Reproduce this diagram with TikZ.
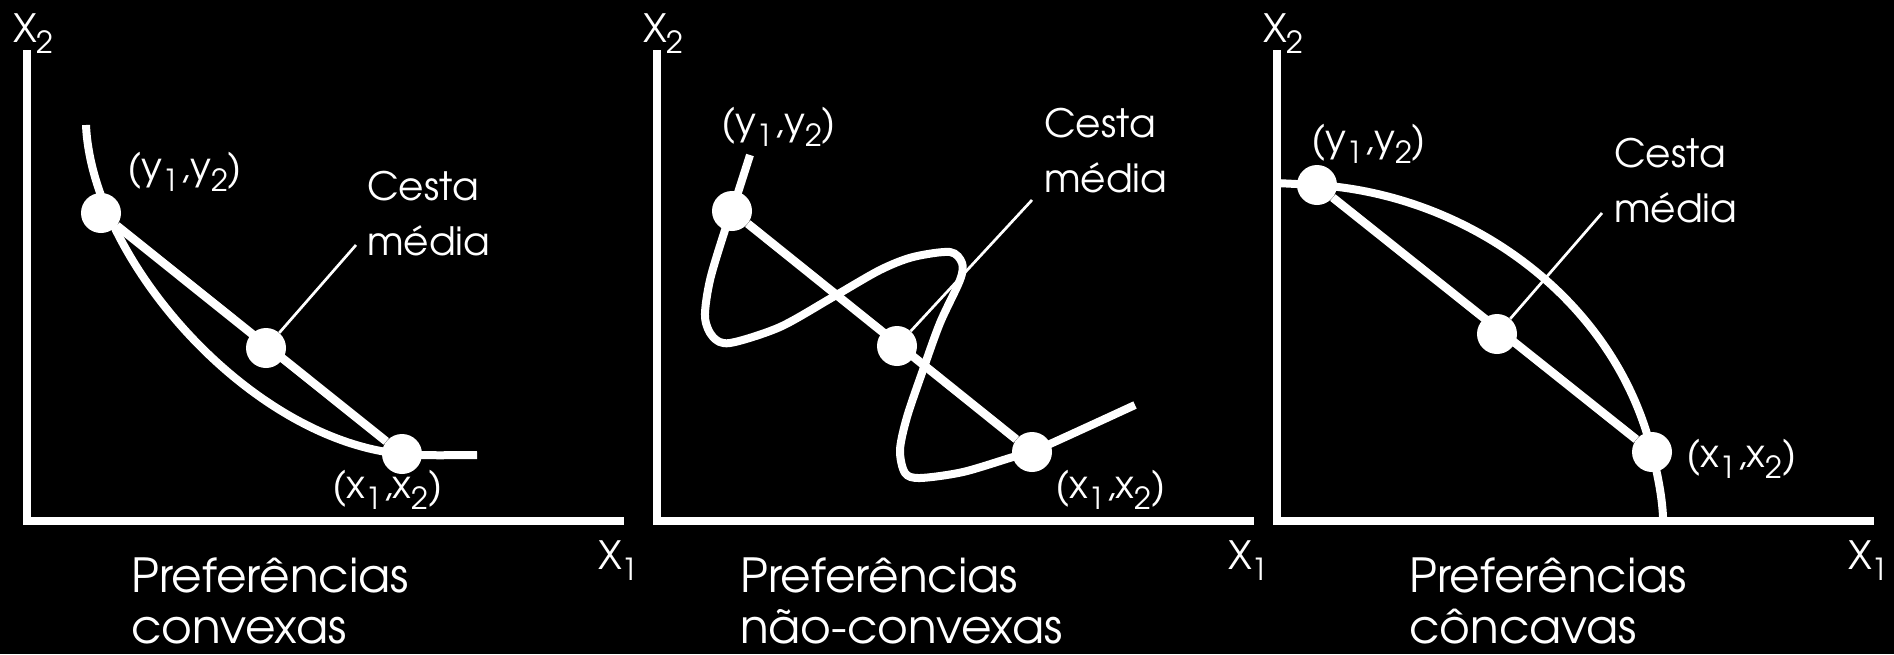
\documentclass[tikz,border=0pt]{standalone}
\usepackage{fontspec}
\setmainfont{texgyreadventor-regular.otf}
\usetikzlibrary{positioning}
\newcommand{\lowidx}[1]{\raisebox{-0.52ex}{\scalebox{0.78}{#1}}}

\begin{document}
\begin{tikzpicture}[
    x=1pt,y=-1pt,
    axis/.style={line width=8pt,white,line join=miter},
    curve/.style={line width=8pt,white},
    chord/.style={line width=8.5pt,white},
    leader/.style={line width=2.7pt,white},
    dot/.style={circle,fill=white,minimum size=40pt,inner sep=0pt},
    lbl/.style={text=white,inner sep=0pt,font=\fontsize{39}{55}\selectfont,align=left},
    caption/.style={text=white,inner sep=0pt,font=\fontsize{47}{51}\selectfont,align=left}
  ]
  \fill[black] (0,0) rectangle (1894,654);

  \foreach \dx/\k in {0/a,630/b,1250/c}{
    \draw[axis] (26.5+\dx,50) -- (26.5+\dx,521) -- (624+\dx,521);
    \node[lbl,anchor=west] (xtwo-\k) at (13+\dx,34) {X\lowidx{2}};
    \node[lbl,anchor=west] (xone-\k) at (598+\dx,561) {X\lowidx{1}};
  }

  % convexas
  \draw[curve] (86,125) .. controls (92,260) and (250,440) .. (402,454) .. controls (430,456) and (450,455) .. (477,455);
  \node[dot] (conv-y) at (101,213) {};
  \node[dot] (conv-m) at (266,348) {};
  \node[dot] (conv-x) at (402,454) {};
  \coordinate (conv-tip) at (356,245);
  \draw[chord] (conv-y) -- (conv-x);
  \draw[leader] (conv-m) -- (conv-tip);
  \node[lbl,anchor=west] (conv-ylab) at (127,172) {(y\lowidx{1},y\lowidx{2})};
  \node[lbl,anchor=base west] (conv-cesta) at (367,255) {Cesta\\média};
  \node[lbl,anchor=west] (conv-xlab) at (332,490) {(x\lowidx{1},x\lowidx{2})};
  \node[caption,anchor=base west] (conv-cap) at (131,643) {Preferências\\convexas};

  % nao-convexas
  \draw[curve] plot[smooth] coordinates {(750,155) (732,211) (725,230) (710,280) (705,317) (713,337) (730,343) (780,327) (833,297) (880,270) (913,257) (950,252) (962,263) (960,280) (940,323) (923,370) (907,417) (900,450) (905,473) (920,478) (963,472) (1013,457) (1032,452) (1135,405)};
  \node[dot] (nconv-y) at (732,211) {};
  \node[dot] (nconv-m) at (897,346) {};
  \node[dot] (nconv-x) at (1032,452) {};
  \coordinate (nconv-tip) at (1032,200);
  \draw[chord] (nconv-y) -- (nconv-x);
  \draw[leader] (nconv-m) -- (nconv-tip);
  \node[lbl,anchor=west] (nconv-ylab) at (721,127) {(y\lowidx{1},y\lowidx{2})};
  \node[lbl,anchor=base west] (nconv-cesta) at (1044,192) {Cesta\\média};
  \node[lbl,anchor=west] (nconv-xlab) at (1055,490) {(x\lowidx{1},x\lowidx{2})};
  \node[caption,anchor=base west] (nconv-cap) at (740,643) {Preferências\\não-convexas};

  % concavas
  \draw[curve] (1276,183) -- (1317,185) .. controls (1470,195) and (1615,300) .. (1652,452) .. controls (1657,472) and (1662,495) .. (1663,517);
  \node[dot] (conc-y) at (1317,185) {};
  \node[dot] (conc-m) at (1497,334) {};
  \node[dot] (conc-x) at (1652,452) {};
  \coordinate (conc-tip) at (1602,213);
  \draw[chord] (conc-y) -- (conc-x);
  \draw[leader] (conc-m) -- (conc-tip);
  \node[lbl,anchor=west] (conc-ylab) at (1311,144) {(y\lowidx{1},y\lowidx{2})};
  \node[lbl,anchor=base west] (conc-cesta) at (1614,222) {Cesta\\média};
  \node[lbl,anchor=west] (conc-xlab) at (1686,459) {(x\lowidx{1},x\lowidx{2})};
  \node[caption,anchor=base west] (conc-cap) at (1409,643) {Preferências\\côncavas};
\end{tikzpicture}
\end{document}
